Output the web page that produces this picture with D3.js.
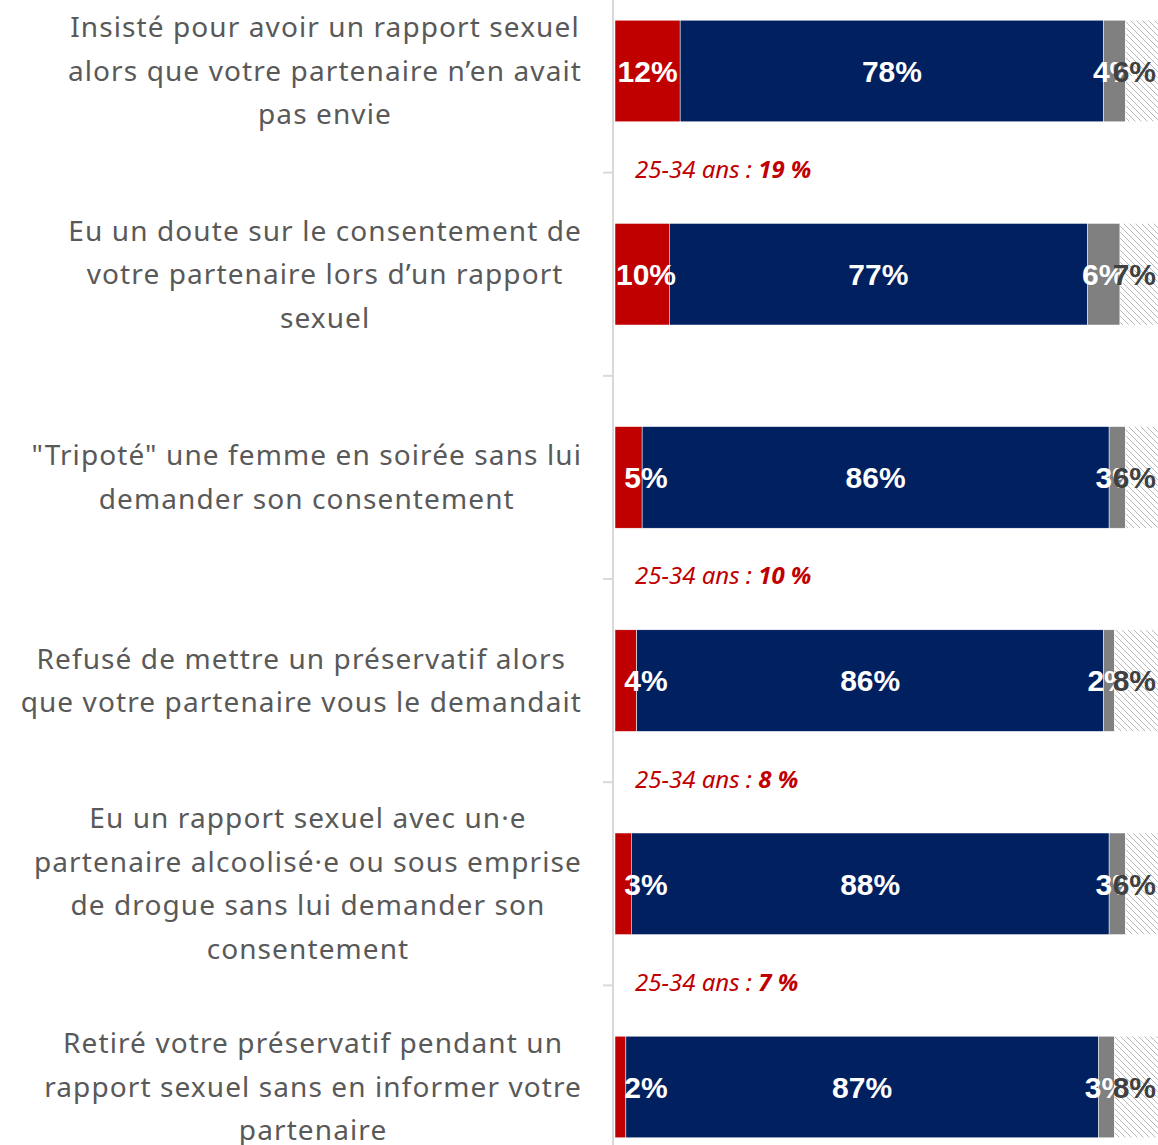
<!DOCTYPE html>
<html><head><meta charset="utf-8">
<script src="https://cdn.jsdelivr.net/npm/d3@7"></script>
<style>
html,body{margin:0;padding:0;background:#fff;overflow:hidden}
svg{display:block}
</style></head>
<body>
<svg id="chart" width="1158" height="1145"></svg>
<script>
// ---- DATA ----
const categories = [
  "Insisté pour avoir un rapport sexuel\nalors que votre partenaire n’en avait\npas envie",
  "Eu un doute sur le consentement de\nvotre partenaire lors d’un rapport\nsexuel",
  "\"Tripoté\" une femme en soirée sans lui\ndemander son consentement",
  "Refusé de mettre un préservatif alors\nque votre partenaire vous le demandait",
  "Eu un rapport sexuel avec un·e\npartenaire alcoolisé·e ou sous emprise\nde drogue sans lui demander son\nconsentement",
  "Retiré votre préservatif pendant un\nrapport sexuel sans en informer votre\npartenaire"
];
const seriesNames = ["Oui", "Non", "Ne sait pas", "Non concerné"];
const oui        = [12, 10, 5, 4, 3, 2];
const non        = [78, 77, 86, 86, 88, 87];
const nsp        = [4, 6, 3, 2, 3, 3];
const nonConcern = [6, 7, 6, 8, 6, 8];
const annotationAfterRow = [0, 2, 3, 4];
const annotationAge = ["25-34 ans", "25-34 ans", "25-34 ans", "25-34 ans"];
const annotationValue = ["19 %", "10 %", "8 %", "7 %"];

// ---- CHART ----
const W = 1158, H = 1145;
const svg = d3.select("#chart");
const colors = ["#c00000", "#002060", "#808080", "url(#hatch)"];
const labelColors = ["#ffffff", "#ffffff", "#ffffff", "#404040"];

const defs = svg.append("defs");
const pat = defs.append("pattern").attr("id", "hatch").attr("patternUnits", "userSpaceOnUse")
  .attr("width", 6).attr("height", 6);
pat.append("rect").attr("width", 6).attr("height", 6).attr("fill", "#ffffff");
pat.append("path").attr("d", "M-1,-1 L7,7 M-1,5 L1,7 M5,-1 L7,1")
  .attr("stroke", "#b8b8b8").attr("stroke-width", 1);

const x = d3.scaleLinear().domain([0, 100]).range([615, 1158]);
const y = d3.scaleBand().domain(d3.range(categories.length))
  .range([-30.6, 1188.6]).paddingInner(0.5).paddingOuter(0.25);

const rows = categories.map((c, i) => ({ i, vals: [oui[i], non[i], nsp[i], nonConcern[i]] }));
const stacked = d3.stack().keys([0, 1, 2, 3]).value((d, k) => d.vals[k])(rows);

// axis line & ticks
svg.append("line").attr("x1", 613).attr("x2", 613).attr("y1", 0).attr("y2", H)
  .attr("stroke", "#d9d9d9").attr("stroke-width", 2);
const boundaries = d3.range(1, categories.length).map(i => y(i) - y.step() * y.paddingInner() / 2);
svg.selectAll(".tick").data(boundaries).join("line")
  .attr("x1", 603).attr("x2", 613).attr("y1", d => d).attr("y2", d => d)
  .attr("stroke", "#d9d9d9").attr("stroke-width", 2);

// bars
stacked.forEach((s, k) => {
  svg.append("g").selectAll("rect").data(s).join("rect")
    .attr("x", d => x(d[0])).attr("width", d => x(d[1]) - x(d[0]))
    .attr("y", d => y(d.data.i)).attr("height", y.bandwidth())
    .attr("fill", colors[k])
    .attr("stroke", "#ffffff").attr("stroke-width", 0.5);
});

// value labels
stacked.forEach((s, k) => {
  const t = svg.append("g").selectAll("text").data(s).join("text")
    .attr("y", d => y(d.data.i) + y.bandwidth() / 2)
    .attr("dy", "0.36em")
    .attr("text-anchor", "middle")
    .attr("font-family", "'Liberation Sans', Arial, sans-serif")
    .attr("font-weight", "bold").attr("font-size", 30)
    .attr("fill", labelColors[k])
    .text(d => d.data.vals[k] + "%");
  t.attr("x", function (d) {
    const c = (x(d[0]) + x(d[1])) / 2;
    const w = this.getComputedTextLength();
    if (k === 0) return Math.max(c, x(0) + 31);
    return Math.min(c, W - w / 2 - 2);
  });
});

// category labels (block right-aligned, lines centered)
const lineH = 43.5;
categories.forEach((c, i) => {
  const lines = c.split("\n");
  const t = svg.append("text")
    .attr("font-family", "'Noto Sans', sans-serif")
    .attr("font-size", 28).attr("fill", "#595959")
    .attr("letter-spacing", 1.1)
    .attr("text-anchor", "middle");
  const cy = y(i) + y.bandwidth() / 2;
  const tsp = t.selectAll("tspan").data(lines).join("tspan")
    .attr("y", (d, j) => cy + (j - (lines.length - 1) / 2) * lineH)
    .attr("dy", "0.35em").text(d => d);
  let maxW = 0;
  tsp.each(function () { maxW = Math.max(maxW, this.getComputedTextLength()); });
  tsp.attr("x", 582 - maxW / 2);
});

// annotations
annotationAfterRow.forEach((r, k) => {
  const by = y(r + 1) - y.step() * y.paddingInner() / 2 - 3;
  const t = svg.append("text").attr("x", 635).attr("y", by).attr("dy", "0.35em")
    .attr("font-family", "'Noto Sans', sans-serif").attr("font-style", "italic")
    .attr("font-size", 24).attr("fill", "#c00000");
  t.append("tspan").text(annotationAge[k] + " : ");
  t.append("tspan").attr("font-weight", "bold").text(annotationValue[k]);
});
</script>
</body></html>
